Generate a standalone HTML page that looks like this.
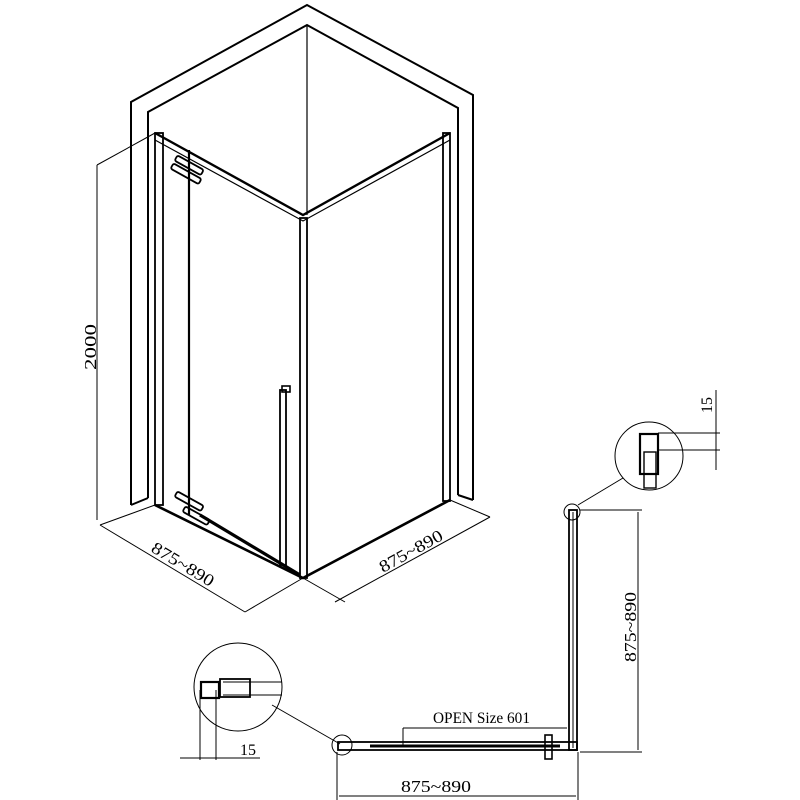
<!DOCTYPE html>
<html><head><style>body{margin:0;background:#fff}svg{display:block}text{font-family:"Liberation Serif",serif;fill:#000}</style></head>
<body>
<svg width="800" height="800" viewBox="0 0 800 800" xmlns="http://www.w3.org/2000/svg" fill="none" stroke="#000" stroke-width="1.6">
<!-- walls -->
<polyline points="131,505 131,102 307,5 473,95 473,500" stroke-width="2"/>
<polyline points="148,498 148,112 307,25 458,108 458,495" stroke-width="2"/>
<line x1="307" y1="25" x2="307" y2="215" stroke-width="1.2"/>
<line x1="131" y1="505" x2="148" y2="498" stroke-width="2"/>
<line x1="473" y1="500" x2="458" y2="495" stroke-width="2"/>
<!-- frame -->
<polyline points="155,133 303,215 450,133" stroke-width="2.4"/>
<polyline points="155,140 303,221 450,140" stroke-width="1.2"/>
<rect x="155" y="133" width="8" height="372" stroke-width="1.8"/>
<rect x="443" y="133" width="7" height="368" stroke-width="1.8"/>
<rect x="300" y="218" width="7" height="360" stroke-width="1.8"/>
<polyline points="155,505 303,578 450,500" stroke-width="2.6"/>
<line x1="189" y1="150" x2="189" y2="515" stroke-width="2.2"/>
<rect x="280" y="390" width="6" height="175" stroke-width="1.8"/>
<rect x="282" y="386" width="8" height="6"/>
<!-- hinges -->
<g stroke-width="1.8">
<rect x="0" y="-3" width="30" height="6" rx="2" transform="translate(176,158) rotate(29)"/>
<rect x="0" y="-3" width="32" height="6" rx="2" transform="translate(172,166) rotate(29)"/>
<rect x="0" y="-3" width="30" height="6" rx="2" transform="translate(176,494) rotate(29)"/>
<rect x="0" y="-3" width="28" height="6" rx="2" transform="translate(184,509) rotate(29)"/>
</g>
<line x1="200" y1="515" x2="300" y2="575" stroke-width="3.2"/>
<!-- dims -->
<g stroke-width="1">
<line x1="97" y1="165" x2="97" y2="520"/>
<line x1="97" y1="165" x2="155" y2="133"/>
<line x1="100" y1="525" x2="155" y2="505"/>
<line x1="100" y1="525" x2="245" y2="612"/>
<line x1="245" y1="612" x2="303" y2="578"/>
<line x1="303" y1="578" x2="345" y2="602"/>
<line x1="335" y1="602" x2="490" y2="517"/>
<line x1="450" y1="500" x2="490" y2="517"/>
</g>
<text x="0" y="0" font-size="17" stroke="none" textLength="46" lengthAdjust="spacingAndGlyphs" transform="translate(96,370) rotate(-90)">2000</text>
<text x="0" y="0" font-size="17" stroke="none" textLength="70" lengthAdjust="spacingAndGlyphs" transform="translate(150,551) rotate(31)">875~890</text>
<text x="0" y="0" font-size="17" stroke="none" textLength="70" lengthAdjust="spacingAndGlyphs" transform="translate(383,573) rotate(-29)">875~890</text>
<!-- plan view -->
<rect x="569" y="510" width="8" height="240" stroke-width="1.8"/>
<line x1="573" y1="512" x2="573" y2="748" stroke-width="1"/>
<rect x="338" y="742" width="239" height="8" stroke-width="1.8"/>
<line x1="370" y1="746" x2="560" y2="746" stroke-width="3"/>
<rect x="545" y="735" width="7" height="24" stroke-width="1.6"/>
<circle cx="572" cy="512" r="8" stroke-width="1"/>
<circle cx="342" cy="745" r="10" stroke-width="1"/>
<g stroke-width="1">
<line x1="580" y1="510" x2="642" y2="510"/>
<line x1="580" y1="752" x2="642" y2="752"/>
<line x1="638" y1="512" x2="638" y2="750"/>
<line x1="337" y1="752" x2="337" y2="800"/>
<line x1="578" y1="752" x2="578" y2="800"/>
<line x1="339" y1="796" x2="576" y2="796"/>
<line x1="403" y1="728" x2="567" y2="728"/>
<line x1="403" y1="728" x2="403" y2="745"/>
<line x1="578" y1="505" x2="623" y2="478"/>
<line x1="272" y1="705" x2="340" y2="744"/>
<circle cx="649" cy="456" r="34"/>
<line x1="658" y1="433" x2="720" y2="433"/>
<line x1="658" y1="450" x2="720" y2="450"/>
<line x1="716" y1="390" x2="716" y2="470"/>
<circle cx="238" cy="687" r="44"/>
<line x1="223" y1="682" x2="282" y2="682"/>
<line x1="223" y1="695" x2="282" y2="695"/>
<line x1="200" y1="690" x2="200" y2="760"/>
<line x1="216" y1="690" x2="216" y2="760"/>
<line x1="180" y1="758" x2="260" y2="758"/>
</g>
<rect x="640" y="434" width="18" height="40" stroke-width="2.2"/>
<rect x="644" y="452" width="12" height="36" stroke-width="1.4"/>
<rect x="201" y="682" width="18" height="16" stroke-width="2.2"/>
<rect x="220" y="679" width="30" height="18" stroke-width="1.8"/>
<text x="433" y="723" font-size="16" stroke="none" textLength="97" lengthAdjust="spacingAndGlyphs">OPEN Size 601</text>
<text x="401" y="792" font-size="17" stroke="none" textLength="70" lengthAdjust="spacingAndGlyphs">875~890</text>
<text x="240" y="755" font-size="16" stroke="none">15</text>
<text x="0" y="0" font-size="17" stroke="none" textLength="70" lengthAdjust="spacingAndGlyphs" transform="translate(636,662) rotate(-90)">875~890</text>
<text x="0" y="0" font-size="16" stroke="none" transform="translate(712,413) rotate(-90)">15</text>
</svg>
</body></html>
